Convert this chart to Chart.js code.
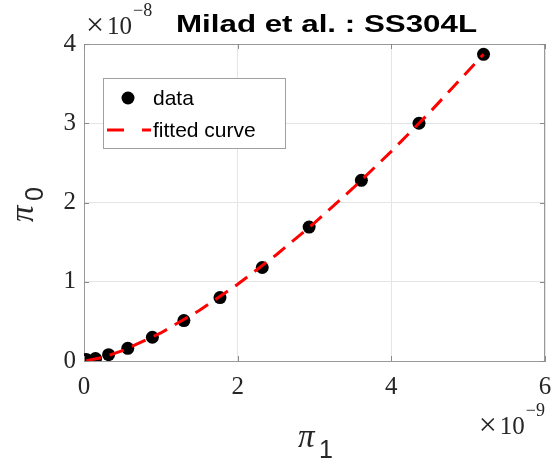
<!DOCTYPE html>
<html>
<head>
<meta charset="utf-8">
<script src="https://cdn.jsdelivr.net/npm/chart.js@4.4.1/dist/chart.umd.min.js"></script>
<style>
  html, body { margin: 0; padding: 0; background: #ffffff; }
  #wrap { width: 554px; height: 461px; position: relative; }
</style>
</head>
<body>
<div id="wrap"><canvas id="c" width="554" height="461"></canvas></div>
<script>
// Measured data: pi_1 (x) and pi_0 (y)
const pi1Data = [0.03e-9, 0.15e-9, 0.32e-9, 0.57e-9, 0.89e-9, 1.30e-9, 1.77e-9, 2.32e-9, 2.93e-9, 3.61e-9, 4.36e-9, 5.20e-9];
const pi0Data = [0.02e-8, 0.03e-8, 0.08e-8, 0.16e-8, 0.30e-8, 0.51e-8, 0.80e-8, 1.18e-8, 1.69e-8, 2.28e-8, 3.00e-8, 3.87e-8];

// Fitted curve samples
const fitX = [0.03e-9, 0.25e-9, 0.5e-9, 1.0e-9, 1.5e-9, 2.0e-9, 2.5e-9, 3.0e-9, 3.5e-9, 4.0e-9, 4.5e-9, 5.2e-9];
const fitY = [0.002e-8, 0.047e-8, 0.130e-8, 0.354e-8, 0.638e-8, 0.968e-8, 1.338e-8, 1.743e-8, 2.180e-8, 2.645e-8, 3.138e-8, 3.870e-8];

// Tick positions and axis exponents
const xTicks = [0, 2e-9, 4e-9, 6e-9];
const yTicks = [0, 1e-8, 2e-8, 3e-8, 4e-8];
const xExponent = -9;
const yExponent = -8;

const titleText = 'Milad et al. : SS304L';
const seriesNames = ['data', 'fitted curve'];

const serif = '"Liberation Serif", "DejaVu Serif", serif';
const sans = '"Liberation Sans", Arial, sans-serif';
const boxColor = '#999999';

function fmtTick(v, exp) {
  const r = Math.round(v / Math.pow(10, exp) * 1000) / 1000;
  return String(r);
}

// Draws "×10^e" with a raised exponent; anchor is the left or right edge
function drawExponent(ctx, exp, x, baseline, alignRight) {
  const times = '\u00d7';
  const ten = '10';
  const sup = '\u2212' + Math.abs(exp);
  ctx.font = '32px ' + serif;
  const wx = ctx.measureText(times).width;
  ctx.font = '25px ' + serif;
  const w10 = ctx.measureText(ten).width;
  ctx.font = '18px ' + serif;
  const ws = ctx.measureText(sup).width;
  const gap = 3;
  const total = wx + gap + w10 + 1 + ws;
  const x0 = alignRight ? x - total : x;
  ctx.textAlign = 'left';
  ctx.font = '32px ' + serif;
  ctx.fillText(times, x0, baseline + 1);
  ctx.font = '25px ' + serif;
  ctx.fillText(ten, x0 + wx + gap, baseline);
  ctx.font = '18px ' + serif;
  ctx.fillText(sup, x0 + wx + gap + w10 + 1, baseline - 18);
}

const decorations = {
  id: 'decorations',
  afterDraw(chart) {
    const ctx = chart.ctx;
    const a = chart.chartArea;
    const xs = chart.scales.x, ys = chart.scales.y;
    ctx.save();

    // Box (top and right edges) and inward tick marks
    ctx.strokeStyle = boxColor;
    ctx.lineWidth = 1;
    ctx.beginPath();
    ctx.moveTo(a.left, a.top + 0.5); ctx.lineTo(a.right, a.top + 0.5);
    ctx.moveTo(a.right - 0.5, a.top); ctx.lineTo(a.right - 0.5, a.bottom);
    ctx.stroke();
    ctx.strokeStyle = '#8a8a8a';
    ctx.beginPath();
    xTicks.forEach(t => {
      const px = Math.round(xs.getPixelForValue(t)) + 0.5;
      ctx.moveTo(px, a.bottom); ctx.lineTo(px, a.bottom - 5);
      ctx.moveTo(px, a.top); ctx.lineTo(px, a.top + 5);
    });
    yTicks.forEach(t => {
      const py = Math.round(ys.getPixelForValue(t)) + 0.5;
      ctx.moveTo(a.left, py); ctx.lineTo(a.left + 5, py);
      ctx.moveTo(a.right, py); ctx.lineTo(a.right - 5, py);
    });
    ctx.stroke();

    // Exponent labels
    ctx.fillStyle = '#262626';
    ctx.textBaseline = 'alphabetic';
    drawExponent(ctx, yExponent, a.left + 2, 34, false);
    drawExponent(ctx, xExponent, a.right, 434, true);

    // Title, stretched to its span
    ctx.fillStyle = '#000000';
    ctx.font = 'bold 24px ' + sans;
    ctx.textAlign = 'left';
    const tw = ctx.measureText(titleText).width;
    const tLeft = 176, tRight = 477;
    ctx.save();
    ctx.translate(tLeft, 32);
    ctx.scale((tRight - tLeft) / tw, 1);
    ctx.fillText(titleText, 0, 0);
    ctx.restore();

    // X axis title: pi_1
    ctx.fillStyle = '#262626';
    ctx.textAlign = 'left';
    ctx.font = 'italic 33px ' + serif;
    ctx.fillText('\u03c0', 298, 447);
    ctx.font = '25px ' + sans;
    ctx.fillText('1', 319, 458);

    // Y axis title: pi_0 (rotated)
    ctx.save();
    ctx.translate(33, 222);
    ctx.rotate(-Math.PI / 2);
    ctx.font = 'italic 33px ' + serif;
    ctx.fillText('\u03c0', 0, 0);
    ctx.font = '25px ' + sans;
    ctx.fillText('0', 21, 10);
    ctx.restore();

    // Legend
    const lx = 103, ly = 78, lw = 182, lh = 70;
    ctx.fillStyle = '#ffffff';
    ctx.fillRect(lx, ly, lw, lh);
    ctx.strokeStyle = '#a0a0a0';
    ctx.lineWidth = 1;
    ctx.strokeRect(lx + 0.5, ly + 0.5, lw, lh);
    ctx.fillStyle = '#000000';
    ctx.beginPath();
    ctx.arc(128, 98, 6.5, 0, Math.PI * 2);
    ctx.fill();
    ctx.strokeStyle = '#ff0000';
    ctx.lineWidth = 3;
    ctx.setLineDash([17, 18]);
    ctx.beginPath();
    ctx.moveTo(107, 130); ctx.lineTo(151, 130);
    ctx.stroke();
    ctx.setLineDash([]);
    ctx.fillStyle = '#000000';
    ctx.font = '21px ' + sans;
    ctx.textBaseline = 'middle';
    ctx.fillText(seriesNames[0], 153, 99);
    ctx.fillText(seriesNames[1], 153, 131);

    ctx.restore();
  }
};

new Chart(document.getElementById('c'), {
  type: 'scatter',
  data: {
    datasets: [
      {
        label: seriesNames[0],
        data: pi1Data.map((x, i) => ({ x: x, y: pi0Data[i] })),
        backgroundColor: '#000000',
        borderWidth: 0,
        pointRadius: 6.5,
        order: 2
      },
      {
        label: seriesNames[1],
        type: 'line',
        data: fitX.map((x, i) => ({ x: x, y: fitY[i] })),
        borderColor: '#ff0000',
        borderWidth: 3,
        borderDash: [15, 9],
        pointRadius: 0,
        fill: false,
        tension: 0,
        order: 1
      }
    ]
  },
  options: {
    responsive: false,
    animation: false,
    devicePixelRatio: 1,
    layout: { padding: { top: 44, right: 9, left: 0, bottom: 0 } },
    plugins: {
      legend: { display: false },
      tooltip: { enabled: false },
      title: { display: false }
    },
    scales: {
      x: {
        type: 'linear',
        min: 0, max: 6e-9,
        afterBuildTicks(s) { s.ticks = xTicks.map(v => ({ value: v })); },
        afterFit(s) { s.height = 100; s.paddingLeft = 0; s.paddingRight = 0; },
        grid: { color: '#e5e5e5', drawTicks: false },
        border: { color: boxColor, width: 1 },
        ticks: {
          padding: 11,
          color: '#262626',
          font: { family: serif, size: 25 },
          callback: v => fmtTick(v, xExponent),
          maxRotation: 0
        }
      },
      y: {
        type: 'linear',
        min: 0, max: 4e-8,
        afterBuildTicks(s) { s.ticks = yTicks.map(v => ({ value: v })); },
        afterFit(s) { s.width = 84; s.paddingTop = 0; s.paddingBottom = 0; },
        grid: { color: '#e5e5e5', drawTicks: false },
        border: { color: boxColor, width: 1 },
        ticks: {
          padding: 8,
          color: '#262626',
          font: { family: serif, size: 25 },
          callback: v => fmtTick(v, yExponent)
        }
      }
    }
  },
  plugins: [decorations]
});
</script>
</body>
</html>
